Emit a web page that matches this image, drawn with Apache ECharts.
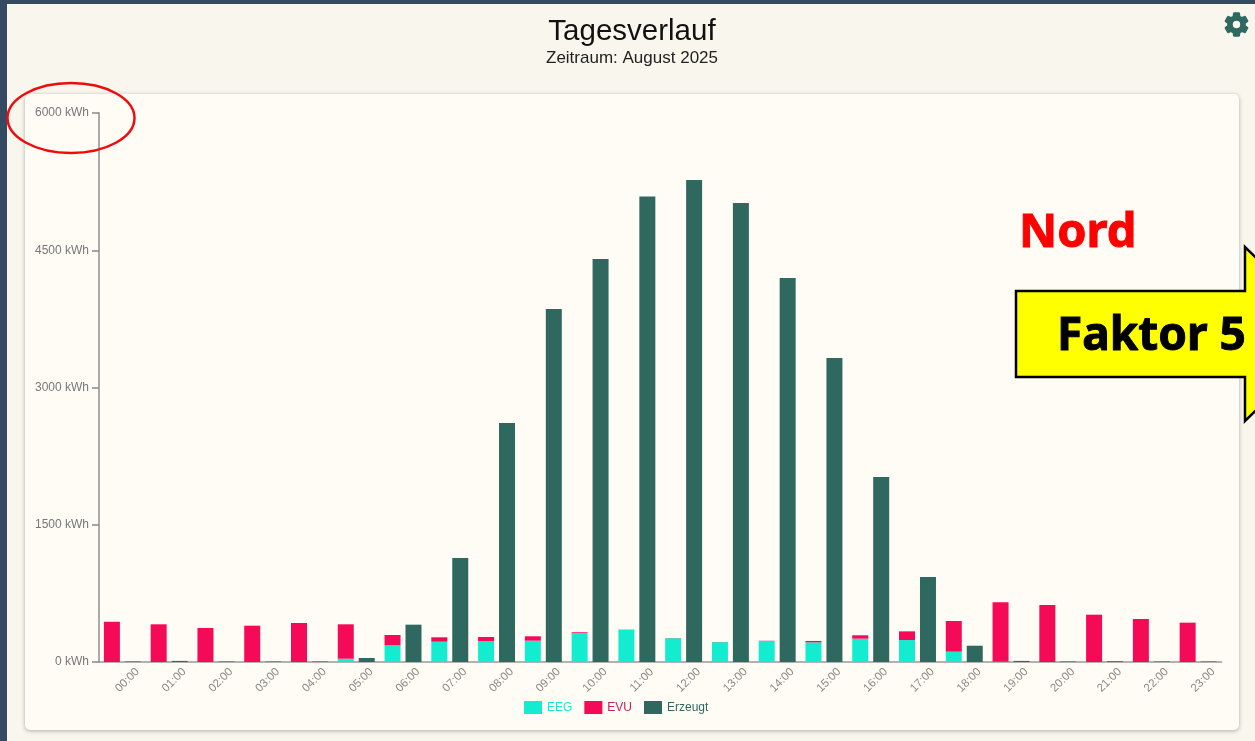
<!DOCTYPE html>
<html><head><meta charset="utf-8">
<style>html,body{margin:0;padding:0;width:1255px;height:741px;overflow:hidden;background:#f8f6ed}#c{width:1255px;height:741px}
#gear{position:absolute;left:1222px;top:10px;width:29px;height:29px;z-index:5}</style>
<script src="https://cdn.jsdelivr.net/npm/echarts@6/dist/echarts.min.js"></script>
</head><body><div id="c"></div>
<svg id="gear" viewBox="0 0 24 24"><path fill="#2e685f" stroke="#2e685f" stroke-width="1" stroke-linejoin="round" d="M19.14 12.94c.04-.3.06-.61.06-.94 0-.32-.02-.64-.07-.94l2.03-1.58a.49.49 0 0 0 .12-.61l-1.92-3.32a.488.488 0 0 0-.59-.22l-2.39.96c-.5-.38-1.03-.7-1.62-.94l-.36-2.54a.484.484 0 0 0-.48-.41h-3.84c-.24 0-.43.17-.47.41l-.36 2.54c-.59.24-1.13.57-1.62.94l-2.39-.96c-.22-.08-.47 0-.59.22L2.74 8.87c-.12.21-.08.47.12.61l2.03 1.58c-.05.3-.09.63-.09.94s.02.64.07.94l-2.03 1.58a.49.49 0 0 0-.12.61l1.92 3.32c.12.22.37.29.59.22l2.39-.96c.5.38 1.03.7 1.62.94l.36 2.54c.05.24.24.41.48.41h3.84c.24 0 .44-.17.47-.41l.36-2.54c.59-.24 1.13-.56 1.62-.94l2.39.96c.22.08.47 0 .59-.22l1.92-3.32c.12-.22.07-.47-.12-.61l-2.01-1.58zM12 15.6c-1.98 0-3.6-1.62-3.6-3.6s1.62-3.6 3.6-3.6 3.6 1.62 3.6 3.6-1.62 3.6-3.6 3.6z"/></svg>
<script>
const hours = ['00:00','01:00','02:00','03:00','04:00','05:00','06:00','07:00','08:00','09:00','10:00','11:00','12:00','13:00','14:00','15:00','16:00','17:00','18:00','19:00','20:00','21:00','22:00','23:00'];
const eeg = [0,0,0,0,0,36,182,222,226,233,317,350,260,217,231,215,255,240,113,3,0,0,0,0];
const evu = [440,412,372,397,426,376,113,48,47,48,8,3,2,2,2,15,37,95,335,649,623,517,470,430];
const erzeugt = [5,12,5,5,5,44,408,1137,2612,3858,4404,5087,5268,5016,4197,3322,2022,929,178,12,5,8,5,5];
const yTicks = {min:0,max:6000,interval:1500};
const teal='#2e685f', pink='#f50a57', cyan='#14ecd0';
const chart=echarts.init(document.getElementById('c'),null,{renderer:'canvas'});
chart.setOption({
  animation:false,
  backgroundColor:'#f8f6ed',
  title:{text:'Tagesverlauf',subtext:'Zeitraum: August 2025',left:627,top:12,textAlign:'center',itemGap:3,
    textStyle:{fontFamily:'Liberation Sans',fontSize:29.5,fontWeight:'normal',color:'#111'},
    subtextStyle:{fontFamily:'Liberation Sans',fontSize:17,color:'#222'}},
  legend:{left:519,top:696,icon:'rect',itemWidth:18,itemHeight:13,itemGap:12,selectedMode:false,
    textStyle:{fontFamily:'Liberation Sans',fontSize:12},
    data:[{name:'EEG',textStyle:{color:cyan}},{name:'EVU',textStyle:{color:'#c0245f'}},{name:'Erzeugt',textStyle:{color:teal}}]},
  grid:{left:99,top:113,width:1122.5,height:549,containLabel:false},
  xAxis:{type:'category',data:hours,boundaryGap:true,
    axisLine:{lineStyle:{color:'#999',width:1.5}},
    axisTick:{alignWithLabel:true,length:6,lineStyle:{color:'#888',width:1.5}},
    axisLabel:{rotate:45,interval:0,align:'center',verticalAlign:'middle',margin:23,padding:[0,0,0,14],fontFamily:'Liberation Sans',fontSize:11.5,color:'#888'}},
  yAxis:{type:'value',...yTicks,splitLine:{show:false},
    axisLine:{show:true,lineStyle:{color:'#aaa',width:2}},
    axisTick:{show:true,length:7,lineStyle:{color:'#888',width:1.5}},
    axisLabel:{margin:10,fontFamily:'Liberation Sans',fontSize:12,color:'#777',formatter:v=>v+' kWh'}},
  series:[
    {name:'EEG',type:'bar',stack:'a',data:eeg,barWidth:16,barGap:'31%',itemStyle:{color:cyan}},
    {name:'EVU',type:'bar',stack:'a',data:evu,barWidth:16,itemStyle:{color:pink}},
    {name:'Erzeugt',type:'bar',data:erzeugt,barWidth:16,itemStyle:{color:teal}}
  ],
  graphic:[
    {type:'rect',z:-10,silent:true,shape:{x:25,y:94,width:1214,height:636,r:5},style:{fill:'#fffcf6',shadowBlur:4,shadowColor:'rgba(0,0,0,0.3)',shadowOffsetY:1}},
    {type:'rect',z:100,silent:true,shape:{x:0,y:0,width:1255,height:4},style:{fill:'#344a63'}},
    {type:'rect',z:100,silent:true,shape:{x:0,y:0,width:7,height:741},style:{fill:'#344a63'}},
    {type:'ellipse',z:100,silent:true,shape:{cx:71,cy:118,rx:63.5,ry:35},style:{fill:'none',stroke:'#f00a0a',lineWidth:2.5}},
    {type:'text',z:100,silent:true,x:1019,y:210,style:{text:'Nord',fill:'#ff0000',stroke:'#ff0000',lineWidth:1,font:'bold 47px "Noto Sans"'}},
    {type:'polygon',z:100,silent:true,shape:{points:[[1016,291],[1245,291],[1245,247],[1335,334],[1245,421],[1245,377],[1016,377]]},style:{fill:'#ffff00',stroke:'#000',lineWidth:2.5}},
    {type:'text',z:101,silent:true,x:1057,y:314,style:{text:'Faktor 5',fill:'#000',stroke:'#000',lineWidth:1,font:'bold 46px "Noto Sans"'}}
  ]
});
</script></body></html>
